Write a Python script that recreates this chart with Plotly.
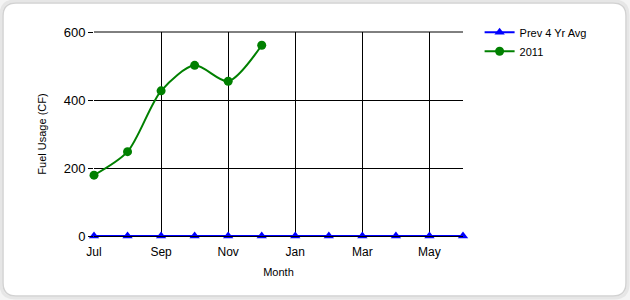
import plotly.graph_objects as go

months = ["Jul", "Aug", "Sep", "Oct", "Nov", "Dec", "Jan", "Feb", "Mar", "Apr", "May", "Jun"]
prev_avg = [0, 0, 0, 0, 0, 0, 0, 0, 0, 0, 0, 0]
y2011 = [179, 248, 427, 502, 455, 561]
tick_months = ["Jul", "Sep", "Nov", "Jan", "Mar", "May"]

W, H = 630, 300
L, R, T, B = 94, 463, 32, 236

xs = list(range(len(months)))

fig = go.Figure()
fig.add_trace(go.Scatter(
    x=xs, y=prev_avg, name="Prev 4 Yr Avg", mode="lines+markers",
    line=dict(color="#0000ff", width=2),
    marker=dict(symbol="triangle-up", size=9, color="#0000ff"),
    cliponaxis=False))
fig.add_trace(go.Scatter(
    x=xs[:len(y2011)], y=y2011, name="2011", mode="lines+markers",
    line=dict(color="#008000", width=2, shape="spline", smoothing=0.8),
    marker=dict(symbol="circle", size=9, color="#008000"),
    cliponaxis=False))

def px(x):
    return (x - L) / (R - L)

def py(y):
    return (B - y) / (B - T)

def panel_path(x0, y0, x1, y1, r):
    return (f"M {px(x0+r)} {py(y0)} L {px(x1-r)} {py(y0)} "
            f"Q {px(x1)} {py(y0)} {px(x1)} {py(y0+r)} "
            f"L {px(x1)} {py(y1-r)} Q {px(x1)} {py(y1)} {px(x1-r)} {py(y1)} "
            f"L {px(x0+r)} {py(y1)} Q {px(x0)} {py(y1)} {px(x0)} {py(y1-r)} "
            f"L {px(x0)} {py(y0+r)} Q {px(x0)} {py(y0)} {px(x0+r)} {py(y0)} Z")

shapes = [
    dict(type="path", xref="paper", yref="paper", layer="below",
         path=panel_path(1, 1, 628, 298, 14), line=dict(color="#e6e6e6", width=3),
         fillcolor="#ffffff"),
    dict(type="path", xref="paper", yref="paper", layer="below",
         path=panel_path(3, 3, 626, 296, 13), line=dict(color="#d2d2d2", width=1.5),
         fillcolor="#ffffff"),
    dict(type="line", xref="paper", yref="paper", layer="below",
         x0=0, x1=1, y0=1, y1=1, line=dict(color="#000000", width=1)),
]

fig.update_layout(
    width=W, height=H,
    margin=dict(l=L, r=W - R, t=T, b=H - B, pad=0),
    paper_bgcolor="#f4f4f4", plot_bgcolor="rgba(0,0,0,0)",
    font=dict(family="Liberation Sans, Arial, sans-serif", size=12, color="#000000"),
    shapes=shapes,
    xaxis=dict(
        range=[0, 11], tickvals=[0, 2, 4, 6, 8, 10], ticktext=tick_months,
        showgrid=True, gridcolor="#000000", gridwidth=1,
        showline=True, linecolor="#000000", linewidth=1,
        zeroline=False, ticks="outside", ticklen=5, tickcolor="rgba(0,0,0,0)",
        title=dict(text="Month", font=dict(size=11), standoff=9),
        tickfont=dict(size=12),
        fixedrange=True),
    yaxis=dict(
        range=[0, 600], tickvals=[0, 200, 400, 600],
        showgrid=True, gridcolor="#000000", gridwidth=1,
        showline=False, zeroline=False,
        ticks="outside", ticklen=5, tickcolor="#000000",
        title=dict(text="Fuel Usage (CF)", font=dict(size=11), standoff=14),
        tickfont=dict(size=13),
        fixedrange=True),
    legend=dict(x=1.045, y=1.07, xanchor="left", yanchor="top",
                font=dict(size=11), bgcolor="rgba(0,0,0,0)",
                tracegroupgap=0, itemwidth=30),
    showlegend=True,
)

fig.write_html("out.html")
